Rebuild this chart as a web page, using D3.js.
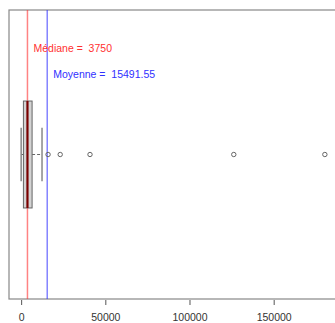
<!DOCTYPE html>
<html>
<head>
<meta charset="utf-8">
<script src="https://cdn.jsdelivr.net/npm/d3@7"></script>
<style>
  body {margin: 0; background: #fff;}
  svg {display: block; overflow: hidden;}
  text {font-family: 'Liberation Sans', Arial, sans-serif;}
</style>
</head>
<body>
<div id="graph"></div>
<script>
// five number summary: min, q1, median, q3, upper whisker
var boxStats = [0, 1350, 3750, 6500, 12400]
var outliers = [16000, 23200, 40900, 126300, 180400]
var median = 3750
var mean = 15491.55
var tickValues = [0, 50000, 100000, 150000]
var labels = [
  {text: 'Médiane =  3750', value: median, y: 1.37, color: '#ff3030'},
  {text: 'Moyenne =  15491.55', value: mean, y: 1.28, color: '#3030ff'}
]

var width = 335, height = 323
var margin = {top: 10, left: 9, right: -2, bottom: 24}

var svg = d3.select('#graph').append('svg')
    .attr('width', width)
    .attr('height', height)

// R style: data range padded by 4% on each side
var lo = d3.min(boxStats.concat(outliers)), hi = d3.max(boxStats.concat(outliers))
var pad = (hi - lo)*0.04

var x = d3.scaleLinear()
    .domain([lo - pad, hi + pad])
    .range([margin.left, width - margin.right])

var y = d3.scaleLinear()
    .domain([0.5, 1.5])
    .range([height - margin.bottom, margin.top])

// plot frame
svg.append('rect')
    .attr('x', x.range()[0])
    .attr('y', y.range()[1])
    .attr('width', x.range()[1] - x.range()[0])
    .attr('height', y.range()[0] - y.range()[1])
    .attr('fill', 'none')
    .attr('stroke', '#888')
    .attr('stroke-width', 1.2)

// x axis, no domain line
var axis = svg.append('g')
    .attr('transform', 'translate(0,' + (y.range()[0] + 1) + ')')
    .call(d3.axisBottom(x).tickValues(tickValues).tickSize(5).tickPadding(9).tickFormat(d3.format('d')))
axis.select('.domain').remove()
axis.selectAll('line').attr('stroke', '#555')
axis.selectAll('text').attr('fill', '#333').style('font-size', '10.5px')

var g = svg.append('g')
var half = 0.185

// reference lines for median and mean, drawn under the box
g.selectAll('line.ref')
  .data(labels)
  .join('line')
    .attr('class', 'ref')
    .attr('x1', d => x(d.value))
    .attr('x2', d => x(d.value))
    .attr('y1', y.range()[0])
    .attr('y2', y.range()[1])
    .attr('stroke', d => d.color)
    .attr('stroke-width', 1.5)
    .attr('stroke-opacity', 0.6)

// whiskers
g.selectAll('line.whisker')
  .data([[boxStats[0], boxStats[1]], [boxStats[3], boxStats[4]]])
  .join('line')
    .attr('class', 'whisker')
    .attr('x1', d => x(d[0]))
    .attr('x2', d => x(d[1]))
    .attr('y1', y(1))
    .attr('y2', y(1))
    .attr('stroke', '#666')
    .attr('stroke-dasharray', '3,2')

// staples
g.selectAll('line.staple')
  .data([boxStats[0], boxStats[4]])
  .join('line')
    .attr('class', 'staple')
    .attr('x1', d => x(d))
    .attr('x2', d => x(d))
    .attr('y1', y(1 - half/2))
    .attr('y2', y(1 + half/2))
    .attr('stroke', '#888')
    .attr('stroke-width', 1.5)

// box
g.append('rect')
    .attr('x', x(boxStats[1]))
    .attr('y', y(1 + half))
    .attr('width', x(boxStats[3]) - x(boxStats[1]))
    .attr('height', y(1 - half) - y(1 + half))
    .attr('fill', '#d3d3d3')
    .attr('stroke', '#666')

// median inside box
g.append('line')
    .attr('x1', x(boxStats[2]))
    .attr('x2', x(boxStats[2]))
    .attr('y1', y(1 + half))
    .attr('y2', y(1 - half))
    .attr('stroke', '#7a0000')
    .attr('stroke-width', 2.2)

// outliers
g.selectAll('circle')
  .data(outliers)
  .join('circle')
    .attr('cx', d => x(d))
    .attr('cy', y(1))
    .attr('r', 2.2)
    .attr('fill', 'none')
    .attr('stroke', '#666')

g.selectAll('text.lbl')
  .data(labels)
  .join('text')
    .attr('class', 'lbl')
    .attr('x', d => x(d.value) + 6)
    .attr('y', d => y(d.y) + 4)
    .attr('fill', d => d.color)
    .style('font-size', '10.5px')
    .style('white-space', 'pre')
    .text(d => d.text)
</script>
</body>
</html>
